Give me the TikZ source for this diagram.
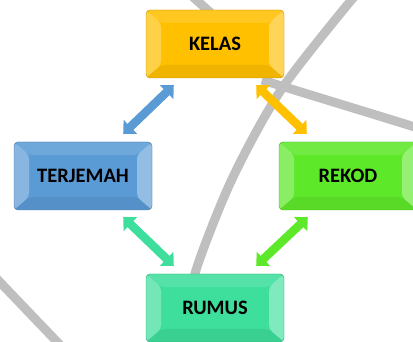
\documentclass[tikz,border=0pt]{standalone}
\usepackage{fontspec}
\setmainfont{Carlito}
\usetikzlibrary{calc,arrows.meta}

\definecolor{kelasc}{HTML}{FFC000}
\definecolor{terjc}{HTML}{5B9BD5}
\definecolor{rekodc}{HTML}{5EE82A}
\definecolor{rumusc}{HTML}{3EDE9C}

\tikzset{
  trail/.style={draw=gray!50, line width=9pt},
  bevelbox/.style={rectangle, rounded corners=4pt, draw=#1!75!black, fill=#1,
    minimum width=138pt, minimum height=68pt, inner sep=0pt,
    font=\fontsize{20.5}{24}\selectfont\bfseries,
    path picture={
      \coordinate (nw) at (path picture bounding box.north west);
      \coordinate (ne) at (path picture bounding box.north east);
      \coordinate (sw) at (path picture bounding box.south west);
      \coordinate (se) at (path picture bounding box.south east);
      \fill[white, opacity=.12] (nw) -- (ne) -- ([shift={(-15,-13)}]ne) -- ([shift={(15,-13)}]nw) -- cycle;
      \fill[white, opacity=.28] (nw) -- ([shift={(15,-13)}]nw) -- ([shift={(15,13)}]sw) -- (sw) -- cycle;
      \fill[white, opacity=.35] (ne) -- ([shift={(-15,-13)}]ne) -- ([shift={(-15,13)}]se) -- (se) -- cycle;
      \fill[black, opacity=.06] (sw) -- ([shift={(15,13)}]sw) -- ([shift={(-15,13)}]se) -- (se) -- cycle;
    }},
  link/.style={draw=#1, line width=8.5pt,
    {Triangle[length=10pt,width=19pt]}-{Triangle[length=10pt,width=19pt]}}
}

\begin{document}
\begin{tikzpicture}[x=1pt, y=1pt]
  \useasboundingbox (0,0) rectangle (413,-342);
  \draw[trail] plot[smooth] coordinates {(358,8) (283,-87) (233,-177) (197,-267) (186,-320)};
  \draw[trail] (418,-128) .. controls (360,-110) and (320,-98) .. (262,-80);
  \draw[trail] (-5,-277) -- (62,-347);
  \draw[trail] (193,3) -- (212,-14);

  \node[bevelbox=kelasc] (kelas) at (215,-44) {KELAS};
  \node[bevelbox=terjc] at ($(kelas) + (-132,-132)$) (terjemah) {TERJEMAH};
  \node[bevelbox=rekodc] at ($(kelas) + (133,-132)$) (rekod) {REKOD};
  \node[bevelbox=rumusc] at ($(kelas) + (0,-264)$) (rumus) {RUMUS};

  \draw[link=terjc] ($(terjemah.north east) + (-29,8)$) -- ($(kelas.south west) + (28,-7)$);
  \draw[link=kelasc] ($(kelas.south east) + (-28,-7)$) -- ($(rekod.north west) + (28,8)$);
  \draw[link=rumusc] ($(terjemah.south east) + (-29,-7)$) -- ($(rumus.north west) + (28,8)$);
  \draw[link=rekodc] ($(rumus.north east) + (-28,8)$) -- ($(rekod.south west) + (29,-7)$);
\end{tikzpicture}
\end{document}
